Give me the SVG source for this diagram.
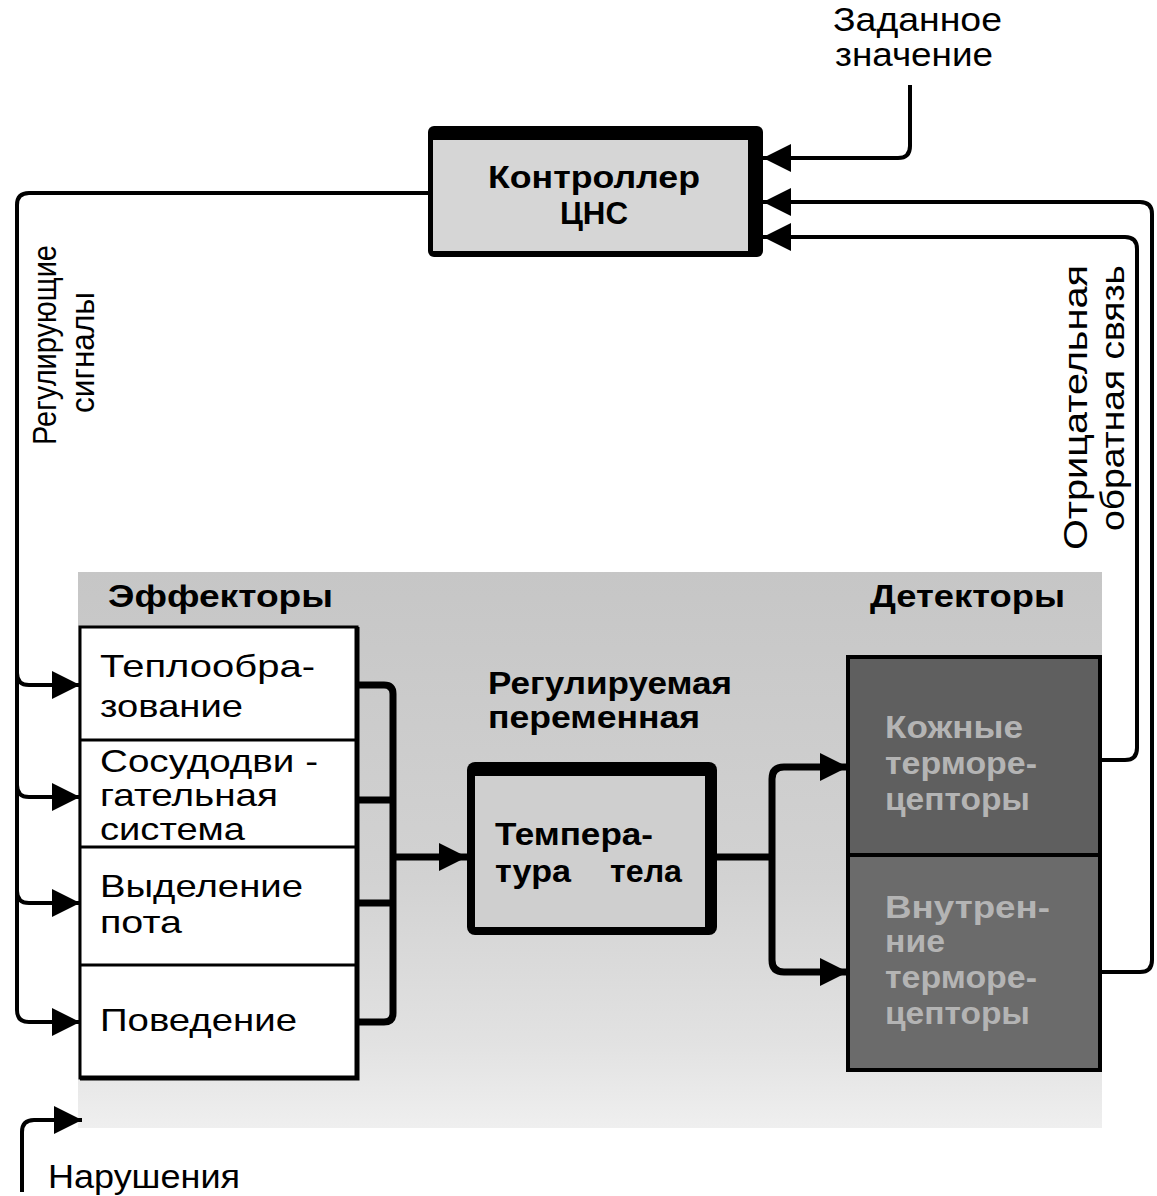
<svg xmlns="http://www.w3.org/2000/svg" width="1157" height="1196" viewBox="0 0 1157 1196">
<style>
  text { font-family: "Liberation Sans", Arial, sans-serif; }
  .t { font-size: 32px; fill: #000; }
  .s { font-size: 33px; fill: #000; }
  .b { font-size: 32px; font-weight: bold; fill: #000; }
  .d { font-size: 31px; font-weight: bold; fill: #b4b4b4; }
  .ln { fill: none; stroke: #000; stroke-width: 4; stroke-linejoin: round; }
  .th { fill: none; stroke: #000; stroke-width: 7; stroke-linejoin: round; }
</style>
<defs>
  <marker id="ah" markerUnits="userSpaceOnUse" markerWidth="28" markerHeight="28" viewBox="0 0 28 28" refX="28" refY="14" orient="auto">
    <path d="M0,0 L28,14 L0,28 Z" fill="#000"/>
  </marker>
  <linearGradient id="bg" x1="0" y1="0" x2="0" y2="1">
    <stop offset="0" stop-color="#c6c6c6"/>
    <stop offset="0.55" stop-color="#d2d2d2"/>
    <stop offset="0.85" stop-color="#e2e2e2"/>
    <stop offset="1" stop-color="#efefef"/>
  </linearGradient>
</defs>
<rect width="1157" height="1196" fill="#fff"/>

<!-- background area -->
<rect id="area" x="78" y="572" width="1024" height="556" fill="url(#bg)"/>

<!-- connectors -->
<g id="connectors">
  <path class="ln" d="M910,85 V146 Q910,158 898,158 H763" marker-end="url(#ah)"/>
  <path class="ln" d="M1100,972 H1140 Q1152,972 1152,960 V214 Q1152,202 1140,202 H763" marker-end="url(#ah)"/>
  <path class="ln" d="M1100,760 H1125 Q1137,760 1137,748 V249 Q1137,237 1125,237 H763" marker-end="url(#ah)"/>
  <path class="ln" d="M430,193 H29 Q17,193 17,205 V1010 Q17,1022 29,1022 H80" marker-end="url(#ah)"/>
  <path class="ln" d="M17,673 Q17,685 29,685 H80" marker-end="url(#ah)"/>
  <path class="ln" d="M17,785 Q17,797 29,797 H80" marker-end="url(#ah)"/>
  <path class="ln" d="M17,891 Q17,903 29,903 H80" marker-end="url(#ah)"/>
  <path class="th" d="M357,685 H384 Q393,685 393,694 V1013 Q393,1022 384,1022 H357"/>
  <path class="th" d="M357,800 H393"/>
  <path class="th" d="M357,903 H393"/>
  <path class="th" d="M393,857 H467" marker-end="url(#ah)"/>
  <path class="th" d="M717,857 H772"/>
  <path class="th" d="M772,857 V779 Q772,767 784,767 H848" marker-end="url(#ah)"/>
  <path class="th" d="M772,857 V960 Q772,972 784,972 H848" marker-end="url(#ah)"/>
  <path class="ln" d="M22,1192 V1132 Q22,1120 34,1120 H82" marker-end="url(#ah)"/>
</g>

<!-- controller -->
<g id="controller">
  <rect x="428" y="126" width="335" height="131" rx="6" fill="#000"/>
  <rect x="433" y="140" width="315" height="111" fill="#d6d6d6"/>
  <text class="b" x="488" y="188" font-size="33" textLength="212" lengthAdjust="spacingAndGlyphs">Контроллер</text>
  <text class="b" x="560" y="224" font-size="33" textLength="68" lengthAdjust="spacingAndGlyphs">ЦНС</text>
</g>

<!-- setpoint label -->
<g id="setpoint">
  <text class="s" x="833" y="31" textLength="169" lengthAdjust="spacingAndGlyphs">Заданное</text>
  <text class="s" x="835" y="66" textLength="158" lengthAdjust="spacingAndGlyphs">значение</text>
</g>

<!-- regulating signals label -->
<g id="reg-signals">
  <text class="s" font-size="31" transform="translate(56,445) rotate(-90)" textLength="200" lengthAdjust="spacingAndGlyphs">Регулирующие</text>
  <text class="s" font-size="31" transform="translate(94,413) rotate(-90)" textLength="121" lengthAdjust="spacingAndGlyphs">сигналы</text>
</g>

<!-- negative feedback label -->
<g id="neg-feedback">
  <text class="s" font-size="35" transform="translate(1087,550) rotate(-90)" textLength="285" lengthAdjust="spacingAndGlyphs">Отрицательная</text>
  <text class="s" font-size="35" transform="translate(1124,531) rotate(-90)" textLength="266" lengthAdjust="spacingAndGlyphs">обратная связь</text>
</g>

<!-- effectors -->
<g id="effectors">
  <text class="b" x="108" y="607" textLength="225" lengthAdjust="spacingAndGlyphs">Эффекторы</text>
  <rect x="80" y="627" width="277" height="451" fill="#fff" stroke="#000" stroke-width="3"/>
  <path d="M357,627 V1078 H80" fill="none" stroke="#000" stroke-width="5"/>
  <path d="M80,740 H357 M80,847 H357 M80,965 H357" stroke="#000" stroke-width="3"/>
  <text class="t" x="100" y="677" textLength="215" lengthAdjust="spacingAndGlyphs">Теплообра-</text>
  <text class="t" x="100" y="717" textLength="143" lengthAdjust="spacingAndGlyphs">зование</text>
  <text class="t" x="100" y="772" font-size="28" textLength="218" lengthAdjust="spacingAndGlyphs">Сосудодви -</text>
  <text class="t" x="100" y="806" font-size="28" textLength="178" lengthAdjust="spacingAndGlyphs">гательная</text>
  <text class="t" x="100" y="840" font-size="28" textLength="145" lengthAdjust="spacingAndGlyphs">система</text>
  <text class="t" x="100" y="897" textLength="203" lengthAdjust="spacingAndGlyphs">Выделение</text>
  <text class="t" x="100" y="933" textLength="82" lengthAdjust="spacingAndGlyphs">пота</text>
  <text class="t" x="100" y="1031" textLength="197" lengthAdjust="spacingAndGlyphs">Поведение</text>
</g>

<!-- regulated variable -->
<g id="regulated">
  <text class="b" x="488" y="694" textLength="244" lengthAdjust="spacingAndGlyphs">Регулируемая</text>
  <text class="b" x="488" y="728" textLength="212" lengthAdjust="spacingAndGlyphs">переменная</text>
</g>

<!-- body temperature -->
<g id="temperature">
  <rect x="467" y="762" width="250" height="173" rx="8" fill="#000"/>
  <rect x="475" y="776" width="230" height="151" fill="#cfcfcf"/>
  <text class="b" x="495" y="845" font-size="35" textLength="158" lengthAdjust="spacingAndGlyphs">Темпера-</text>
  <text class="b" x="495" y="882" font-size="35" textLength="76" lengthAdjust="spacingAndGlyphs">тура</text>
  <text class="b" x="610" y="882" font-size="35" textLength="72" lengthAdjust="spacingAndGlyphs">тела</text>
</g>

<!-- detectors -->
<g id="detectors">
  <text class="b" x="870" y="607" textLength="195" lengthAdjust="spacingAndGlyphs">Детекторы</text>
  <rect x="848" y="657" width="252" height="198" fill="#5f5f5f" stroke="#000" stroke-width="4"/>
  <rect x="848" y="855" width="252" height="215" fill="#6b6b6b" stroke="#000" stroke-width="4"/>
  <text class="d" x="885" y="738" textLength="138" lengthAdjust="spacingAndGlyphs">Кожные</text>
  <text class="d" x="885" y="774" textLength="152" lengthAdjust="spacingAndGlyphs">терморе-</text>
  <text class="d" x="885" y="810" textLength="145" lengthAdjust="spacingAndGlyphs">цепторы</text>
  <text class="d" x="885" y="918" font-size="30" textLength="165" lengthAdjust="spacingAndGlyphs">Внутрен-</text>
  <text class="d" x="885" y="952" font-size="30" textLength="60" lengthAdjust="spacingAndGlyphs">ние</text>
  <text class="d" x="885" y="988" font-size="30" textLength="152" lengthAdjust="spacingAndGlyphs">терморе-</text>
  <text class="d" x="885" y="1024" font-size="30" textLength="145" lengthAdjust="spacingAndGlyphs">цепторы</text>
</g>

<!-- disturbances -->
<g id="disturbance">
  <text class="s" x="48" y="1188" textLength="192" lengthAdjust="spacingAndGlyphs">Нарушения</text>
</g>
</svg>
